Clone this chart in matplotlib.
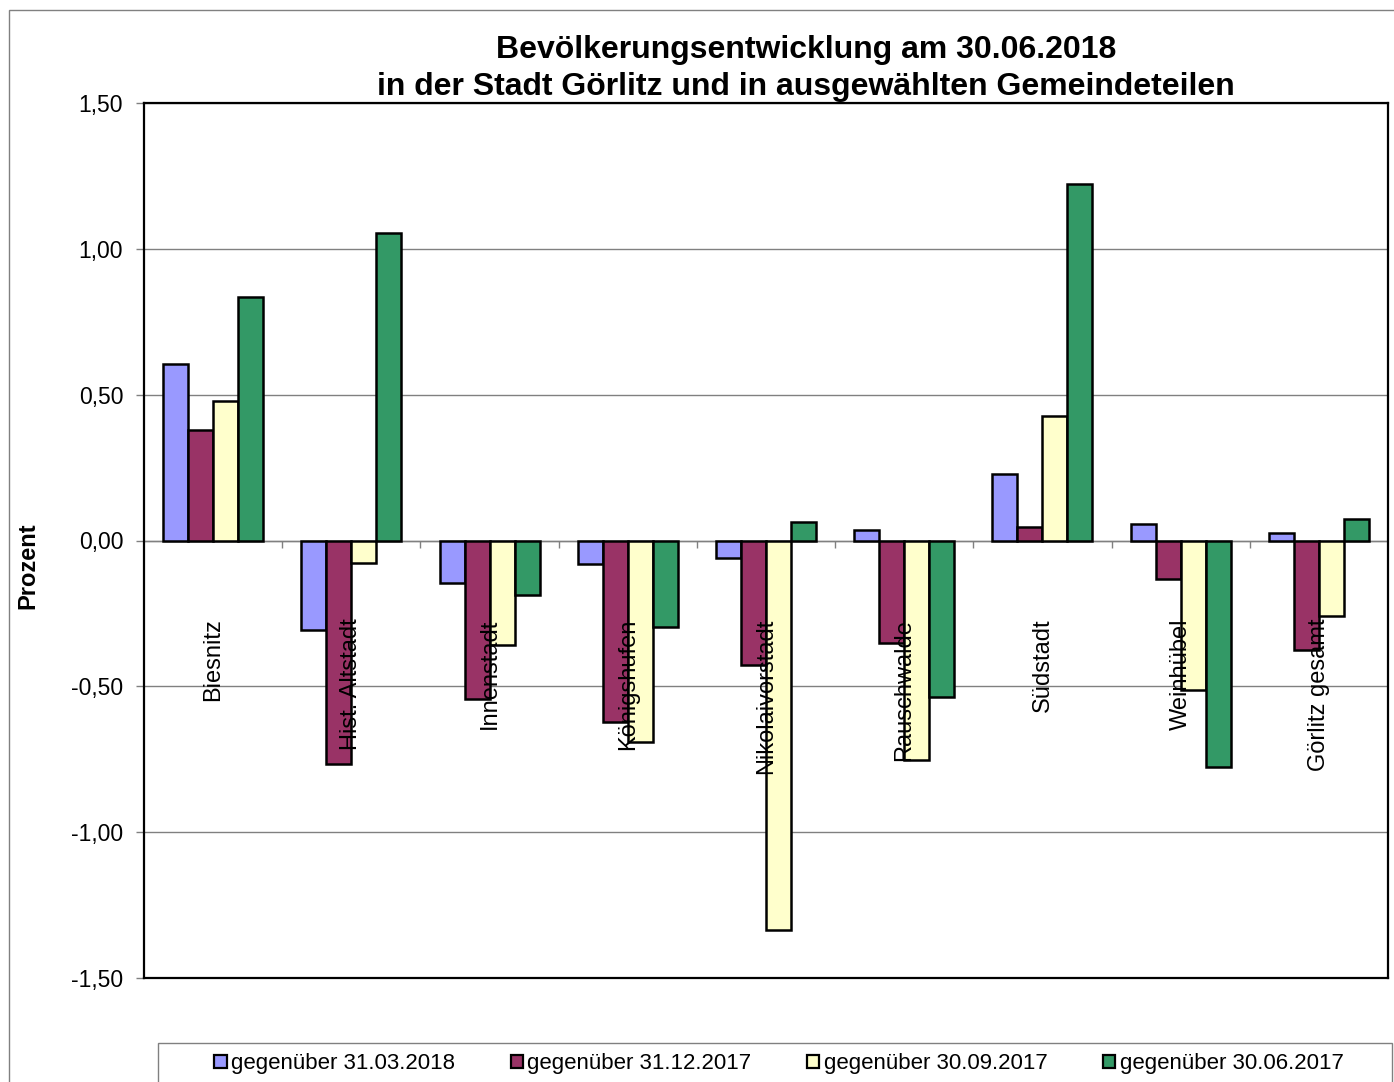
import numpy as np
import matplotlib.pyplot as plt
from matplotlib.patches import Rectangle, Patch
from matplotlib.ticker import FuncFormatter, MultipleLocator

plt.rcParams['font.family'] = ['Liberation Sans', 'DejaVu Sans']

# Daten (Prozent)
gebiete = ["Biesnitz", "Hist. Altstadt", "Innenstadt", "Königshufen", "Nikolaivorstadt",
           "Rauschwalde", "Südstadt", "Weinhübel", "Görlitz gesamt"]
serien = ["gegenüber 31.03.2018", "gegenüber 31.12.2017",
          "gegenüber 30.09.2017", "gegenüber 30.06.2017"]
q1_2018 = [0.605, -0.307, -0.146, -0.081, -0.060, 0.036, 0.228, 0.057, 0.026]
q4_2017 = [0.379, -0.766, -0.543, -0.622, -0.427, -0.353, 0.046, -0.132, -0.375]
q3_2017 = [0.478, -0.077, -0.358, -0.691, -1.335, -0.752, 0.427, -0.513, -0.259]
q2_2017 = [0.835, 1.054, -0.187, -0.297, 0.063, -0.537, 1.222, -0.776, 0.074]
werte = [q1_2018, q4_2017, q3_2017, q2_2017]
farben = ["#9999FF", "#993366", "#FFFFCC", "#339966"]

W, H = 1394, 1082
fig = plt.figure(figsize=(W / 100, H / 100), dpi=100)
ax = fig.add_axes([144 / W, 1 - 978 / H, (1388 - 144) / W, (978 - 103) / H])

x = np.arange(len(gebiete))
bw = 0.181
for i, (vals, col) in enumerate(zip(werte, farben)):
    ax.bar(x + (i - 1.5) * bw, vals, bw, color=col, edgecolor='black', linewidth=1.8, zorder=3)

ax.set_xlim(-0.5, len(gebiete) - 0.5)
ax.set_ylim(-1.5, 1.5)
ax.yaxis.set_major_locator(MultipleLocator(0.5))
ax.yaxis.set_major_formatter(FuncFormatter(lambda v, p: f"{v:.2f}".replace('.', ',')))
ax.tick_params(axis='y', length=6, width=1, color='#808080', pad=9, labelsize=16.5)
ax.set_xticks([])
ax.grid(axis='y', color='#808080', linewidth=1)
ax.set_axisbelow(True)
for s in ax.spines.values():
    s.set_linewidth(1.6)
    s.set_color('black')

# Nulllinie mit Kategorie-Trennstrichen
ax.axhline(0, color='#808080', linewidth=1, zorder=1)
ax.vlines(np.arange(1, len(gebiete)) - 0.5, -0.024, 0, color='#808080', linewidth=1, zorder=1)

for xi, name in zip(x, gebiete):
    ax.text(xi, -0.268, name, rotation=90, ha='center', va='top', fontsize=17, zorder=4)

ax.set_ylabel("Prozent", fontsize=17, fontweight='bold')
ax.yaxis.set_label_coords((39 - 144) / 1244, (978 - 566) / 875)

fig.text(806 / W, 1 - 68.5 / H,
         "Bevölkerungsentwicklung am 30.06.2018\nin der Stadt Görlitz und in ausgewählten Gemeindeteilen",
         ha='center', va='center', fontsize=23, fontweight='bold', linespacing=1.3)

# Rahmen Diagrammbereich und Legende
fig.patches.append(Rectangle((9 / W, -0.1), 1.2, 1.1 - 10 / H, transform=fig.transFigure,
                             fill=False, edgecolor='#808080', linewidth=1))
fig.patches.append(Rectangle((158 / W, -0.1), (1392 - 158) / W, 0.1 + 1 - 1043 / H,
                             transform=fig.transFigure, fill=False, edgecolor='#808080', linewidth=1))
handles = [Patch(facecolor=c, edgecolor='black', linewidth=1.6) for c in farben]
fig.legend(handles, serien, loc='center', bbox_to_anchor=(779 / W, 1 - 1064 / H), ncol=4,
           frameon=False, fontsize=16, handlelength=0.55, handleheight=0.55,
           handletextpad=0.2, columnspacing=2.5, borderpad=0)

fig.savefig("out.png", dpi=100)
